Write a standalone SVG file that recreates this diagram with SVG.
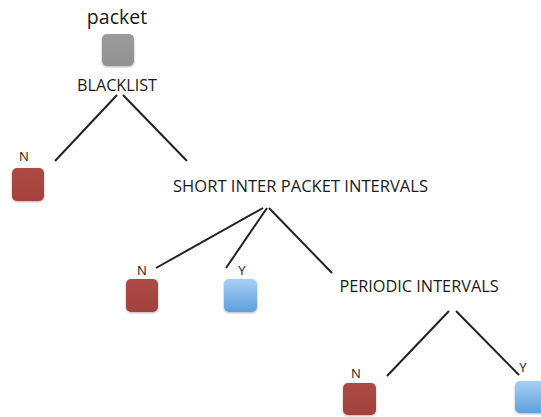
<svg xmlns="http://www.w3.org/2000/svg" width="541" height="417" viewBox="0 0 541 417">
<style>
text{font-family:"Open Sans","Liberation Sans",sans-serif;fill:#1a1a1a;text-anchor:middle}
.lbl{font-size:16.3px}
.yn{font-size:13px}
.edge{stroke:#222;stroke-width:2;fill:none}
.box{stroke:none}
</style>
<defs>
<linearGradient id="gBlue" x1="0" y1="0" x2="0" y2="1"><stop offset="0" stop-color="#a9cff4"/><stop offset="1" stop-color="#5d9fe0"/></linearGradient>
<linearGradient id="gRed" x1="0" y1="0" x2="0" y2="1"><stop offset="0" stop-color="#ac4a45"/><stop offset="1" stop-color="#a3423d"/></linearGradient>
<linearGradient id="gGray" x1="0" y1="0" x2="0" y2="1"><stop offset="0" stop-color="#9b9b9b"/><stop offset="1" stop-color="#919191"/></linearGradient>
<filter id="sh" x="-20%" y="-20%" width="140%" height="150%"><feDropShadow dx="0" dy="1" stdDeviation="1" flood-color="#000" flood-opacity="0.3"/></filter>
</defs>
<g id="connectors">
<line class="edge" x1="117" y1="95" x2="55" y2="161"/>
<line class="edge" x1="123" y1="95" x2="187" y2="161"/>
<line class="edge" x1="263" y1="208" x2="156" y2="268"/>
<line class="edge" x1="267" y1="208" x2="226" y2="268"/>
<line class="edge" x1="269" y1="208" x2="332" y2="273"/>
<line class="edge" x1="449" y1="311" x2="387" y2="376"/>
<line class="edge" x1="456" y1="311" x2="519" y2="375"/>
</g>
<g id="packet">
<text x="117" y="24" style="font-size:19.5px">packet</text>
<rect class="box" x="102" y="34" width="32" height="32" rx="5" fill="url(#gGray)" filter="url(#sh)"/>
<text class="lbl" x="117" y="91" textLength="80" lengthAdjust="spacingAndGlyphs">BLACKLIST</text>
</g>
<g id="n1">
<text class="yn" x="24" y="161">N</text>
<rect class="box" x="12" y="168" width="32" height="33" rx="5" fill="url(#gRed)" filter="url(#sh)"/>
</g>
<g id="short">
<text class="lbl" x="300.5" y="192" textLength="255" lengthAdjust="spacingAndGlyphs">SHORT INTER PACKET INTERVALS</text>
</g>
<g id="n2">
<text class="yn" x="142" y="275">N</text>
<rect class="box" x="126" y="279" width="32" height="33" rx="5" fill="url(#gRed)" filter="url(#sh)"/>
</g>
<g id="y2">
<text class="yn" x="242" y="275">Y</text>
<rect class="box" x="224" y="279" width="33" height="33" rx="5" fill="url(#gBlue)" filter="url(#sh)"/>
</g>
<g id="periodic">
<text class="lbl" x="419" y="292">PERIODIC INTERVALS</text>
</g>
<g id="n3">
<text class="yn" x="356" y="378">N</text>
<rect class="box" x="343" y="383" width="33" height="32" rx="5" fill="url(#gRed)" filter="url(#sh)"/>
</g>
<g id="y3">
<text class="yn" x="523" y="372">Y</text>
<rect class="box" x="515" y="381" width="33" height="32" rx="5" fill="url(#gBlue)" filter="url(#sh)"/>
</g>
</svg>
